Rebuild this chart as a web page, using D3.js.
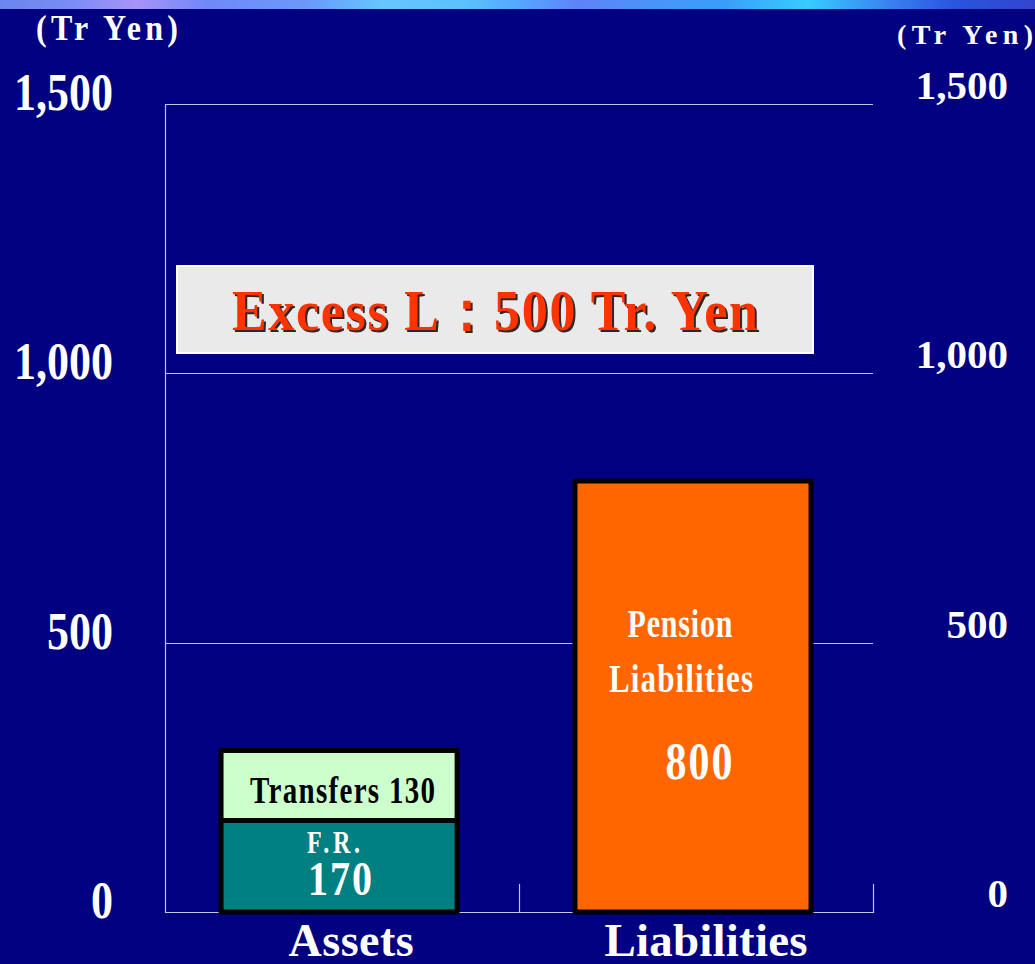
<!DOCTYPE html>
<html>
<head>
<meta charset="utf-8">
<script src="https://cdn.jsdelivr.net/npm/d3@7"></script>
<style>
  html, body { margin: 0; padding: 0; background: #000080; }
  svg { display: block; }
</style>
</head>
<body>
<script>
// ---- data (trillion yen) ----
const categories = ["Assets", "Liabilities"];
const fundReserve = [170, 0];          // F.R.
const transfers = [130, 0];            // Transfers
const pensionLiabilities = [0, 800];   // Pension Liabilities
const yTicks = [0, 500, 1000, 1500];
const unitLabel = "(Tr Yen)";

const W = 1035, H = 964;
const serif = "'Liberation Serif', 'Times New Roman', serif";

const svg = d3.select("body").append("svg")
  .attr("width", W).attr("height", H);

// background + banner strip
svg.append("rect").attr("width", W).attr("height", H).attr("fill", "#000080");
const defs = svg.append("defs");
const grad = defs.append("linearGradient").attr("id", "banner")
  .attr("x1", "0%").attr("x2", "100%").attr("y1", "0%").attr("y2", "0%");
[
  [0, "#6A86EE"], [0.07, "#7A8CF5"], [0.13, "#A894F8"], [0.2, "#7088F8"],
  [0.3, "#6A9AFA"], [0.37, "#66C6FF"], [0.45, "#5CC0FF"], [0.5, "#55A8FF"],
  [0.56, "#5E82F8"], [0.63, "#4A94F8"], [0.7, "#3A9EF8"], [0.78, "#38CCFF"],
  [0.86, "#3A80F0"], [0.92, "#2A55E0"], [1, "#3344CC"]
].forEach(([o, c]) => grad.append("stop").attr("offset", o).attr("stop-color", c));
svg.append("rect").attr("x", 0).attr("y", 0).attr("width", W).attr("height", 9)
  .attr("fill", "url(#banner)");

// ---- scales ----
const plotLeft = 165, plotRight = 873;
const x = d3.scaleBand().domain(categories).range([plotLeft, plotRight])
  .paddingInner(0.333).paddingOuter(0.1667).align(0.475);
const y = d3.scaleLinear().domain([0, 1500]).range([912, 104]);

// text helper: serif, optionally stretched vertically and fitted to a width
function label(g, tx, ty, str, o) {
  const t = g.append("text")
    .attr("transform", `translate(${tx},${ty}) scale(1,${o.sy || 1})`)
    .attr("text-anchor", o.anchor || "middle")
    .attr("font-family", serif)
    .attr("font-weight", o.weight || "bold")
    .attr("font-size", o.size)
    .attr("fill", o.fill || "#fff")
    .text(str);
  if (o.len) t.attr("textLength", o.len).attr("lengthAdjust", o.adjust || "spacing");
  return t;
}

// ---- grid + axes ----
const gridColor = "#C4C4E4";
const grid = svg.append("g");
grid.selectAll("line.h").data(yTicks).join("line")
  .attr("x1", plotLeft).attr("x2", plotRight)
  .attr("y1", d => Math.round(y(d)) + 0.5).attr("y2", d => Math.round(y(d)) + 0.5)
  .attr("stroke", gridColor).attr("stroke-width", 1.2);
grid.append("line")
  .attr("x1", plotLeft + 0.5).attr("x2", plotLeft + 0.5)
  .attr("y1", y(1500)).attr("y2", y(0) + 1)
  .attr("stroke", gridColor).attr("stroke-width", 1.2);
// category boundary ticks along the bottom
grid.selectAll("line.cat").data([(plotLeft + plotRight) / 2, plotRight]).join("line")
  .attr("x1", d => Math.round(d) + 0.5).attr("x2", d => Math.round(d) + 0.5)
  .attr("y1", y(0) - 28).attr("y2", y(0) + 1)
  .attr("stroke", gridColor).attr("stroke-width", 1.2);

// left tick labels
const fmt = d3.format(",");
const leftAxis = svg.append("g");
yTicks.forEach(v => label(leftAxis, 113, y(v) + 6, fmt(v), { size: 44, sy: 1.18, anchor: "end" }));
// right tick labels
const rightAxis = svg.append("g");
yTicks.forEach(v => label(rightAxis, 1008, y(v) - 5, fmt(v), { size: 41, anchor: "end" }));

// unit labels
label(svg, 36, 40, unitLabel, { size: 32, sy: 1.15, anchor: "start", len: 142 });
label(svg, 897, 44, unitLabel, { size: 28, sy: 1.0, anchor: "start", len: 136 });

// ---- stacked bars ----
const rows = categories.map((c, i) => ({
  category: c, fr: fundReserve[i], tr: transfers[i], pl: pensionLiabilities[i]
}));
const keys = ["fr", "tr", "pl"];
const colors = { fr: "#008080", tr: "#CCFFCC", pl: "#FF6600" };
const stacked = d3.stack().keys(keys)(rows);

const bars = svg.append("g");
stacked.forEach(layer => {
  bars.selectAll(null)
    .data(layer.filter(d => d[1] - d[0] > 0))
    .join("rect")
    .attr("x", d => x(d.data.category))
    .attr("width", x.bandwidth())
    .attr("y", d => y(d[1]))
    .attr("height", d => y(d[0]) - y(d[1]))
    .attr("fill", colors[layer.key])
    .attr("stroke", "#000")
    .attr("stroke-width", 5)
    .attr("stroke-linejoin", "round");
});

// ---- labels inside bars ----
const cx = c => x(c) + x.bandwidth() / 2;
const seg = key => stacked.find(l => l.key === key);

const trSeg = seg("tr").find(d => d[1] - d[0] > 0);
label(svg, cx(trSeg.data.category) + 3.5, y(trSeg[1]) + 53,
  "Transfers " + (trSeg[1] - trSeg[0]), { size: 29, sy: 1.28, fill: "#000", len: 185 });

const frSeg = seg("fr").find(d => d[1] - d[0] > 0);
label(svg, cx(frSeg.data.category) - 5.5, y(frSeg[1]) + 33, "F.R.",
  { size: 24, sy: 1.3, len: 53 });
label(svg, cx(frSeg.data.category) + 1, y(frSeg[1]) + 75,
  String(frSeg[1] - frSeg[0]), { size: 40, sy: 1.2, len: 64 });

const plSeg = seg("pl").find(d => d[1] - d[0] > 0);
label(svg, cx(plSeg.data.category) - 13, y(plSeg[1]) + 156, "Pension",
  { size: 30, sy: 1.3, len: 105 });
label(svg, cx(plSeg.data.category) - 12, y(plSeg[1]) + 211, "Liabilities",
  { size: 31, sy: 1.3, len: 144 });
label(svg, cx(plSeg.data.category) + 6, y(plSeg[1]) + 298,
  String(plSeg[1] - plSeg[0]), { size: 42, sy: 1.25, len: 67 });

// ---- category labels ----
label(svg, cx("Assets") + 12, 956, "Assets", { size: 46, len: 125 });
label(svg, cx("Liabilities") + 13, 956, "Liabilities", { size: 47, len: 203 });

// ---- excess-liability callout ----
const totalAssets = d3.sum(fundReserve) + d3.sum(transfers);
const totalLiab = d3.sum(pensionLiabilities);
const excess = totalLiab - totalAssets;
const box = svg.append("g");
box.append("rect").attr("x", 177).attr("y", 266).attr("width", 636).attr("height", 87)
  .attr("fill", "#EAEAEA").attr("stroke", "#FFFFFF").attr("stroke-width", 2);
const excessText = `Excess L：${excess} Tr. Yen`;
label(box, 497, 332, excessText, { size: 52, sy: 1.08, fill: "#2a2a2a", len: 526 });
label(box, 495, 330, excessText, { size: 52, sy: 1.08, fill: "#FF3300", len: 526 });
</script>
</body>
</html>
